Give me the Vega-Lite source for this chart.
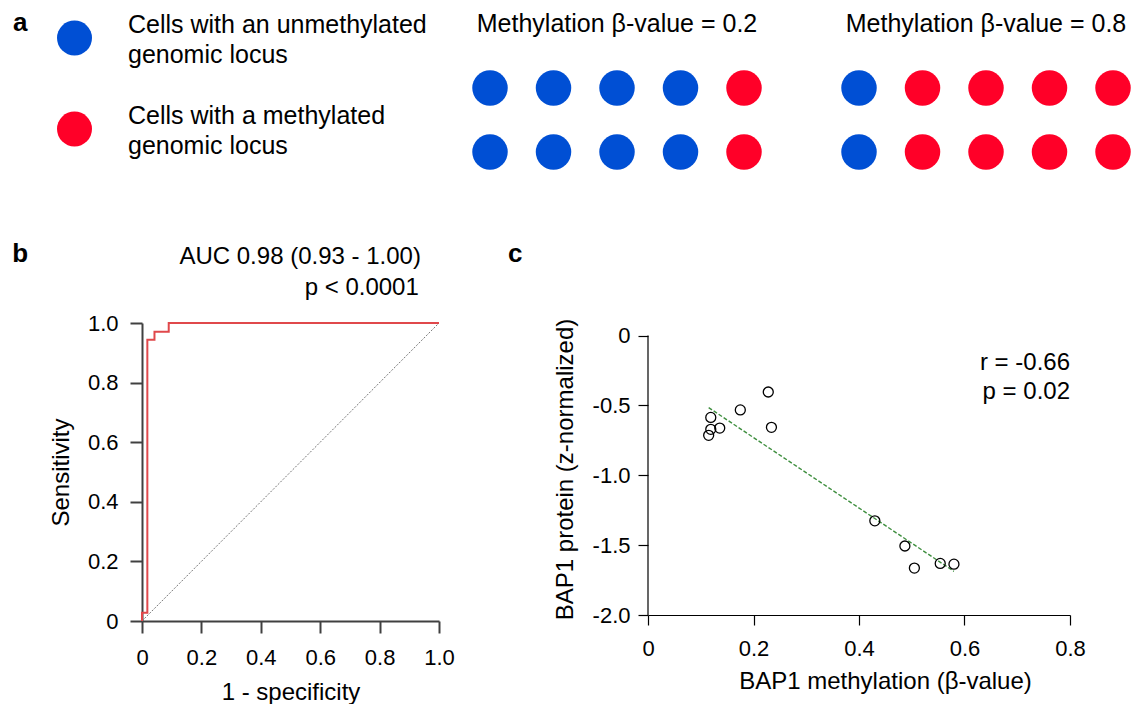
{
  "$schema": "https://vega.github.io/schema/vega-lite/v6.json",
  "padding": {"left": 12, "top": 9, "right": 0, "bottom": 0},
  "background": "white",
  "config": {
    "font": "Liberation Sans",
    "view": {"stroke": null},
    "axis": {"grid": false, "labelColor": "#000", "titleColor": "#000", "labelFontSize": 22, "titleFontSize": 24, "titleFontWeight": "normal", "labelFlush": false, "labelOverlap": false, "labelLimit": 0, "titleLimit": 0},
    "text": {"color": "#000"},
    "title": {"color": "#000", "fontWeight": "normal"}
  },
  "datasets": {
    "legend": [
      {"state": "unmethylated", "row": 1, "label": "Cells with an unmethylated\ngenomic locus"},
      {"state": "methylated", "row": 2, "label": "Cells with a methylated\ngenomic locus"}
    ],
    "cells": [
      {"group": "0.2", "col": 1, "row": 1, "state": "unmethylated"},
      {"group": "0.2", "col": 2, "row": 1, "state": "unmethylated"},
      {"group": "0.2", "col": 3, "row": 1, "state": "unmethylated"},
      {"group": "0.2", "col": 4, "row": 1, "state": "unmethylated"},
      {"group": "0.2", "col": 5, "row": 1, "state": "methylated"},
      {"group": "0.2", "col": 1, "row": 2, "state": "unmethylated"},
      {"group": "0.2", "col": 2, "row": 2, "state": "unmethylated"},
      {"group": "0.2", "col": 3, "row": 2, "state": "unmethylated"},
      {"group": "0.2", "col": 4, "row": 2, "state": "unmethylated"},
      {"group": "0.2", "col": 5, "row": 2, "state": "methylated"},
      {"group": "0.8", "col": 1, "row": 1, "state": "unmethylated"},
      {"group": "0.8", "col": 2, "row": 1, "state": "methylated"},
      {"group": "0.8", "col": 3, "row": 1, "state": "methylated"},
      {"group": "0.8", "col": 4, "row": 1, "state": "methylated"},
      {"group": "0.8", "col": 5, "row": 1, "state": "methylated"},
      {"group": "0.8", "col": 1, "row": 2, "state": "unmethylated"},
      {"group": "0.8", "col": 2, "row": 2, "state": "methylated"},
      {"group": "0.8", "col": 3, "row": 2, "state": "methylated"},
      {"group": "0.8", "col": 4, "row": 2, "state": "methylated"},
      {"group": "0.8", "col": 5, "row": 2, "state": "methylated"}
    ],
    "roc": [
      {"i": 1, "fpr": 0, "tpr": 0},
      {"i": 2, "fpr": 0, "tpr": 0.028},
      {"i": 3, "fpr": 0.018, "tpr": 0.028},
      {"i": 4, "fpr": 0.018, "tpr": 0.944},
      {"i": 5, "fpr": 0.042, "tpr": 0.944},
      {"i": 6, "fpr": 0.042, "tpr": 0.971},
      {"i": 7, "fpr": 0.09, "tpr": 0.971},
      {"i": 8, "fpr": 0.09, "tpr": 1},
      {"i": 9, "fpr": 1, "tpr": 1}
    ],
    "bap1": [
      {"methylation": 0.115, "protein": -0.714},
      {"methylation": 0.119, "protein": -0.586},
      {"methylation": 0.119, "protein": -0.671},
      {"methylation": 0.136, "protein": -0.662},
      {"methylation": 0.175, "protein": -0.532},
      {"methylation": 0.228, "protein": -0.404},
      {"methylation": 0.234, "protein": -0.657},
      {"methylation": 0.43, "protein": -1.326},
      {"methylation": 0.487, "protein": -1.506},
      {"methylation": 0.505, "protein": -1.664},
      {"methylation": 0.554, "protein": -1.631},
      {"methylation": 0.58, "protein": -1.636}
    ]
  },
  "spacing": 38,
  "vconcat": [
    {
      "spacing": 30,
      "hconcat": [
        {
          "width": 300,
          "height": 91,
          "layer": [
            {
              "data": {"name": "legend"},
              "mark": {"type": "point", "shape": "circle", "filled": true, "size": 1225, "opacity": 1},
              "encoding": {
                "x": {"datum": -0.225, "type": "quantitative", "scale": {"domain": [0, 1], "nice": false, "zero": false}, "axis": null},
                "y": {"field": "row", "type": "quantitative", "scale": {"domain": [1, 2], "reverse": true, "nice": false, "zero": false}, "axis": null},
                "color": {"field": "state", "type": "nominal", "scale": {"domain": ["unmethylated", "methylated"], "range": ["#004fd4", "#ff0028"]}, "legend": null}
              }
            },
            {
              "data": {"name": "legend"},
              "mark": {"type": "text", "align": "left", "baseline": "bottom", "lineBreak": "\n", "lineHeight": 30, "fontSize": 25},
              "encoding": {
                "x": {"datum": -0.0467, "type": "quantitative", "scale": {"domain": [0, 1], "nice": false, "zero": false}},
                "y": {"field": "row", "type": "quantitative", "scale": {"domain": [1, 2], "reverse": true, "nice": false, "zero": false}},
                "text": {"field": "label"}
              }
            },
            {
              "data": {"values": [{}]},
              "mark": {"type": "text", "text": "a", "align": "left", "baseline": "alphabetic", "fontSize": 26, "fontWeight": "bold"},
              "encoding": {
                "x": {"datum": -0.43, "type": "quantitative", "scale": {"domain": [0, 1], "nice": false, "zero": false}},
                "y": {"datum": 0.923, "type": "quantitative", "scale": {"domain": [1, 2], "reverse": true, "nice": false, "zero": false}}
              }
            }
          ]
        },
        {
          "width": 623,
          "height": 164,
          "data": {"name": "cells"},
          "mark": {"type": "point", "shape": "circle", "filled": true, "size": 1260, "opacity": 1},
          "encoding": {
            "x": {
              "field": "group", "type": "nominal", "sort": ["0.2", "0.8"],
              "scale": {"paddingInner": 0.31165, "paddingOuter": 0},
              "axis": {"orient": "top", "title": null, "domain": false, "ticks": false, "tickSize": 0, "labelPadding": 6.5, "labelBaseline": "alphabetic", "labelFontSize": 25, "labelAngle": 0, "labelExpr": "'Methylation β-value = ' + datum.label"}
            },
            "xOffset": {"field": "col", "type": "ordinal", "scale": {"paddingInner": 1, "paddingOuter": 0}},
            "y": {"field": "row", "type": "ordinal", "scale": {"type": "point", "padding": 0.78125}, "axis": null},
            "color": {"field": "state", "type": "nominal", "scale": {"domain": ["unmethylated", "methylated"], "range": ["#004fd4", "#ff0028"]}, "legend": null}
          }
        }
      ]
    },
    {
      "spacing": 53,
      "hconcat": [
        {
          "width": 297,
          "height": 298,
          "layer": [
            {
              "data": {"values": [{}]},
              "mark": {"type": "rule", "color": "#555555", "strokeWidth": 0.8, "strokeDash": [2, 1.5]},
              "encoding": {
                "x": {"datum": 0, "type": "quantitative", "scale": {"domain": [0, 1], "nice": false, "zero": false}},
                "y": {"datum": 0, "type": "quantitative", "scale": {"domain": [0, 1], "nice": false, "zero": false}},
                "x2": {"datum": 1},
                "y2": {"datum": 1}
              }
            },
            {
              "data": {"name": "roc"},
              "mark": {"type": "line", "color": "#e0484b", "strokeWidth": 2},
              "encoding": {
                "x": {
                  "field": "fpr", "type": "quantitative", "scale": {"domain": [0, 1], "nice": false, "zero": false},
                  "axis": {"values": [0, 0.2, 0.4, 0.6, 0.8, 1], "labelExpr": "datum.value == 0 ? '0' : format(datum.value, '.1f')", "title": "1 - specificity", "domainColor": "#404040", "domainWidth": 2, "tickColor": "#404040", "tickWidth": 2, "tickSize": 12, "labelPadding": 14, "titlePadding": 12}
                },
                "y": {
                  "field": "tpr", "type": "quantitative", "scale": {"domain": [0, 1], "nice": false, "zero": false},
                  "axis": {"values": [0, 0.2, 0.4, 0.6, 0.8, 1], "labelExpr": "datum.value == 0 ? '0' : format(datum.value, '.1f')", "title": "Sensitivity", "domainColor": "#404040", "domainWidth": 2, "tickColor": "#404040", "tickWidth": 2, "tickSize": 12, "labelPadding": 12, "titlePadding": 14}
                },
                "order": {"field": "i"}
              }
            },
            {
              "data": {"values": [{}]},
              "mark": {"type": "text", "text": "AUC 0.98 (0.93 - 1.00)", "align": "right", "baseline": "alphabetic", "fontSize": 24},
              "encoding": {
                "x": {"datum": 0.939, "type": "quantitative", "scale": {"domain": [0, 1], "nice": false, "zero": false}},
                "y": {"datum": 1.199, "type": "quantitative", "scale": {"domain": [0, 1], "nice": false, "zero": false}}
              }
            },
            {
              "data": {"values": [{}]},
              "mark": {"type": "text", "text": "p < 0.0001", "align": "right", "baseline": "alphabetic", "fontSize": 24},
              "encoding": {
                "x": {"datum": 0.932, "type": "quantitative", "scale": {"domain": [0, 1], "nice": false, "zero": false}},
                "y": {"datum": 1.0956, "type": "quantitative", "scale": {"domain": [0, 1], "nice": false, "zero": false}}
              }
            },
            {
              "data": {"values": [{}]},
              "mark": {"type": "text", "text": "b", "align": "left", "baseline": "alphabetic", "fontSize": 26, "fontWeight": "bold"},
              "encoding": {
                "x": {"datum": -0.437, "type": "quantitative", "scale": {"domain": [0, 1], "nice": false, "zero": false}},
                "y": {"datum": 1.205, "type": "quantitative", "scale": {"domain": [0, 1], "nice": false, "zero": false}}
              }
            }
          ]
        },
        {
          "width": 422,
          "height": 292,
          "layer": [
            {
              "data": {"values": [{}]},
              "mark": {"type": "rule", "color": "#000", "strokeWidth": 1.2},
              "encoding": {
                "x": {"datum": 0, "type": "quantitative", "scale": {"domain": [0, 0.8], "nice": false, "zero": false}},
                "y": {"datum": 0, "type": "quantitative", "scale": {"domain": [-2, 0.09], "nice": false, "zero": false}},
                "y2": {"datum": -2}
              }
            },
            {
              "data": {"name": "bap1"},
              "transform": [{"regression": "protein", "on": "methylation"}],
              "mark": {"type": "line", "color": "#3f8f3f", "strokeWidth": 1.4, "strokeDash": [4, 2]},
              "encoding": {
                "x": {"field": "methylation", "type": "quantitative", "scale": {"domain": [0, 0.8], "nice": false, "zero": false}},
                "y": {"field": "protein", "type": "quantitative", "scale": {"domain": [-2, 0.09], "nice": false, "zero": false}}
              }
            },
            {
              "data": {"name": "bap1"},
              "mark": {"type": "point", "shape": "circle", "filled": false, "size": 100, "color": "#000", "strokeWidth": 1.3, "opacity": 1},
              "encoding": {
                "x": {
                  "field": "methylation", "type": "quantitative", "scale": {"domain": [0, 0.8], "nice": false, "zero": false},
                  "axis": {"values": [0, 0.2, 0.4, 0.6, 0.8], "labelExpr": "datum.value == 0 ? '0' : format(datum.value, '.1f')", "title": "BAP1 methylation (β-value)", "titleX": 237, "titleAnchor": "middle", "domainColor": "#000", "domainWidth": 1.2, "tickColor": "#000", "tickWidth": 1.2, "tickSize": 10, "labelPadding": 13, "titlePadding": 10}
                },
                "y": {
                  "field": "protein", "type": "quantitative", "scale": {"domain": [-2, 0.09], "nice": false, "zero": false},
                  "axis": {"values": [0, -0.5, -1, -1.5, -2], "labelExpr": "datum.value == 0 ? '0' : (datum.value < 0 ? '-' : '') + format(abs(datum.value), '.1f')", "title": "BAP1 protein (z-normalized)", "domain": false, "tickColor": "#000", "tickWidth": 1.2, "tickSize": 10, "labelPadding": 8, "titlePadding": 15}
                }
              }
            },
            {
              "data": {"values": [{}]},
              "mark": {"type": "text", "text": "r = -0.66", "align": "right", "baseline": "alphabetic", "fontSize": 24},
              "encoding": {
                "x": {"datum": 0.8, "type": "quantitative", "scale": {"domain": [0, 0.8], "nice": false, "zero": false}},
                "y": {"datum": -0.243, "type": "quantitative", "scale": {"domain": [-2, 0.09], "nice": false, "zero": false}}
              }
            },
            {
              "data": {"values": [{}]},
              "mark": {"type": "text", "text": "p = 0.02", "align": "right", "baseline": "alphabetic", "fontSize": 24},
              "encoding": {
                "x": {"datum": 0.8, "type": "quantitative", "scale": {"domain": [0, 0.8], "nice": false, "zero": false}},
                "y": {"datum": -0.457, "type": "quantitative", "scale": {"domain": [-2, 0.09], "nice": false, "zero": false}}
              }
            },
            {
              "data": {"values": [{}]},
              "mark": {"type": "text", "text": "c", "align": "left", "baseline": "alphabetic", "fontSize": 26, "fontWeight": "bold"},
              "encoding": {
                "x": {"datum": -0.2654, "type": "quantitative", "scale": {"domain": [0, 0.8], "nice": false, "zero": false}},
                "y": {"datum": 0.529, "type": "quantitative", "scale": {"domain": [-2, 0.09], "nice": false, "zero": false}}
              }
            }
          ]
        }
      ]
    }
  ]
}
